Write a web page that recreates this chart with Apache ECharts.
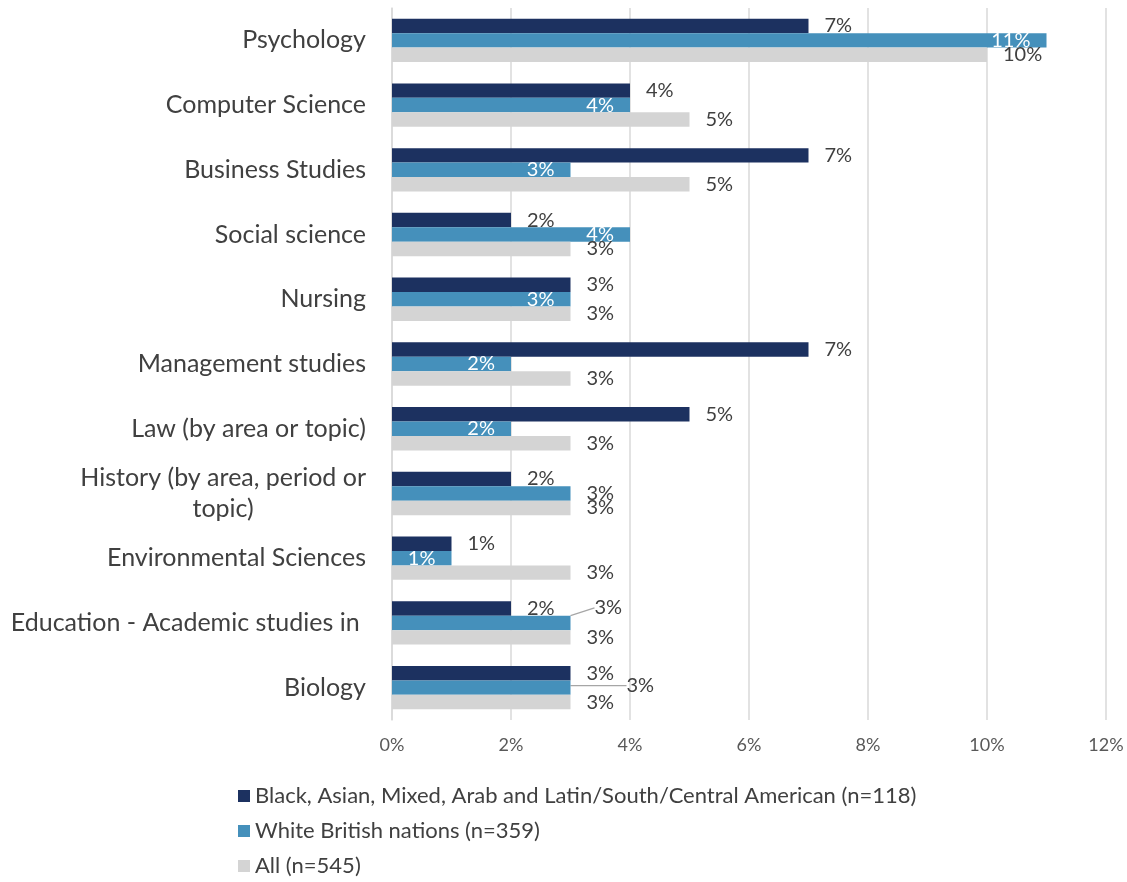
<!DOCTYPE html>
<html>
<head>
<meta charset="utf-8">
<title>Subjects by ethnicity</title>
<script src="https://cdn.jsdelivr.net/npm/echarts@6/dist/echarts.min.js"></script>
<style>
  html, body { margin: 0; padding: 0; background: #fff; }
  #chart { width: 1127px; height: 882px; }
</style>
</head>
<body>
<div id="chart"></div>
<script>
const categories = [
  'Psychology',
  'Computer Science',
  'Business Studies',
  'Social science',
  'Nursing',
  'Management studies',
  'Law (by area or topic)',
  'History (by area, period or topic)',
  'Environmental Sciences',
  'Education - Academic studies in ',
  'Biology'
]
const seriesNames = [
  'Black, Asian, Mixed, Arab and Latin/South/Central American (n=118)',
  'White British nations (n=359)',
  'All (n=545)'
]
const bameValues = [7, 4, 7, 2, 3, 7, 5, 2, 1, 2, 3]
const whiteBritishValues = [11, 4, 3, 4, 3, 2, 2, 3, 1, 3, 3]
const allValues = [10, 5, 5, 3, 3, 3, 3, 3, 3, 3, 3]
const xTicks = [0, 2, 4, 6, 8, 10, 12]

const colors = ['#1c3160', '#4590bb', '#d4d4d4']
const textColor = '#404040'
const fontFamily = 'Lato, "Noto Sans", sans-serif'

const chart = echarts.init(document.getElementById('chart'))

const darkLabel = {
  show: true,
  position: 'right',
  distance: 16,
  color: textColor,
  fontSize: 20,
  fontFamily: fontFamily,
  formatter: '{c}%'
}

const guideLine = { show: true, lineStyle: { color: '#a6a6a6', width: 1.2 } }

// White British labels sit inside the bar end, a few were moved out by hand
const whiteData = whiteBritishValues.map((v, i) => {
  if (i === 7) {
    return { value: v, label: { position: 'right', color: textColor, offset: [2, -2] } }
  }
  if (i === 9 || i === 10) {
    return { value: v, label: { position: 'right', color: textColor }, labelLine: guideLine }
  }
  return v
})

const option = {
  animation: false,
  color: colors,
  textStyle: { fontFamily: fontFamily },
  grid: {
    left: 392,
    right: 21,
    top: 8,
    bottom: 162,
    containLabel: false
  },
  legend: {
    orient: 'vertical',
    left: 238,
    top: 785,
    padding: 0,
    itemWidth: 12,
    itemHeight: 12,
    itemGap: 13,
    icon: 'rect',
    textStyle: { color: textColor, fontSize: 22, lineHeight: 22, fontFamily: fontFamily },
    data: seriesNames
  },
  xAxis: {
    type: 'value',
    min: xTicks[0],
    max: xTicks[xTicks.length - 1],
    interval: 2,
    axisLine: { show: false },
    axisTick: { show: false },
    splitLine: { lineStyle: { color: '#d9d9d9', width: 1.5 } },
    axisLabel: {
      formatter: '{value}%',
      color: '#595959',
      fontSize: 18,
      margin: 16,
      fontFamily: fontFamily
    }
  },
  yAxis: {
    type: 'category',
    inverse: true,
    data: categories,
    axisLine: { show: true, lineStyle: { color: '#d9d9d9', width: 1.5 } },
    axisTick: { show: false },
    axisLabel: {
      margin: 26,
      color: textColor,
      fontSize: 25,
      fontFamily: fontFamily,
      formatter: function (name) {
        if (name.indexOf('History') === 0) {
          return '{c|History (by area, period or}\n{c|topic)}'
        }
        return '{c|' + name + '}'
      },
      rich: {
        c: { align: 'center', fontSize: 25, color: textColor, lineHeight: 31, fontFamily: fontFamily }
      }
    }
  },
  series: [
    {
      name: seriesNames[0],
      type: 'bar',
      data: bameValues,
      barGap: '0%',
      barCategoryGap: '33%',
      label: darkLabel
    },
    {
      name: seriesNames[1],
      type: 'bar',
      data: whiteData,
      label: {
        show: true,
        position: 'insideRight',
        distance: 16,
        color: '#ffffff',
        fontSize: 20,
        fontFamily: fontFamily,
        formatter: '{c}%'
      },
      labelLayout: function (params) {
        if (params.dataIndex === 9) {
          return { dx: 8, dy: -15 }
        }
        if (params.dataIndex === 10) {
          return { dx: 40, dy: -2 }
        }
        return {}
      }
    },
    {
      name: seriesNames[2],
      type: 'bar',
      data: allValues,
      label: darkLabel
    }
  ]
}

chart.setOption(option)
</script>
</body>
</html>
